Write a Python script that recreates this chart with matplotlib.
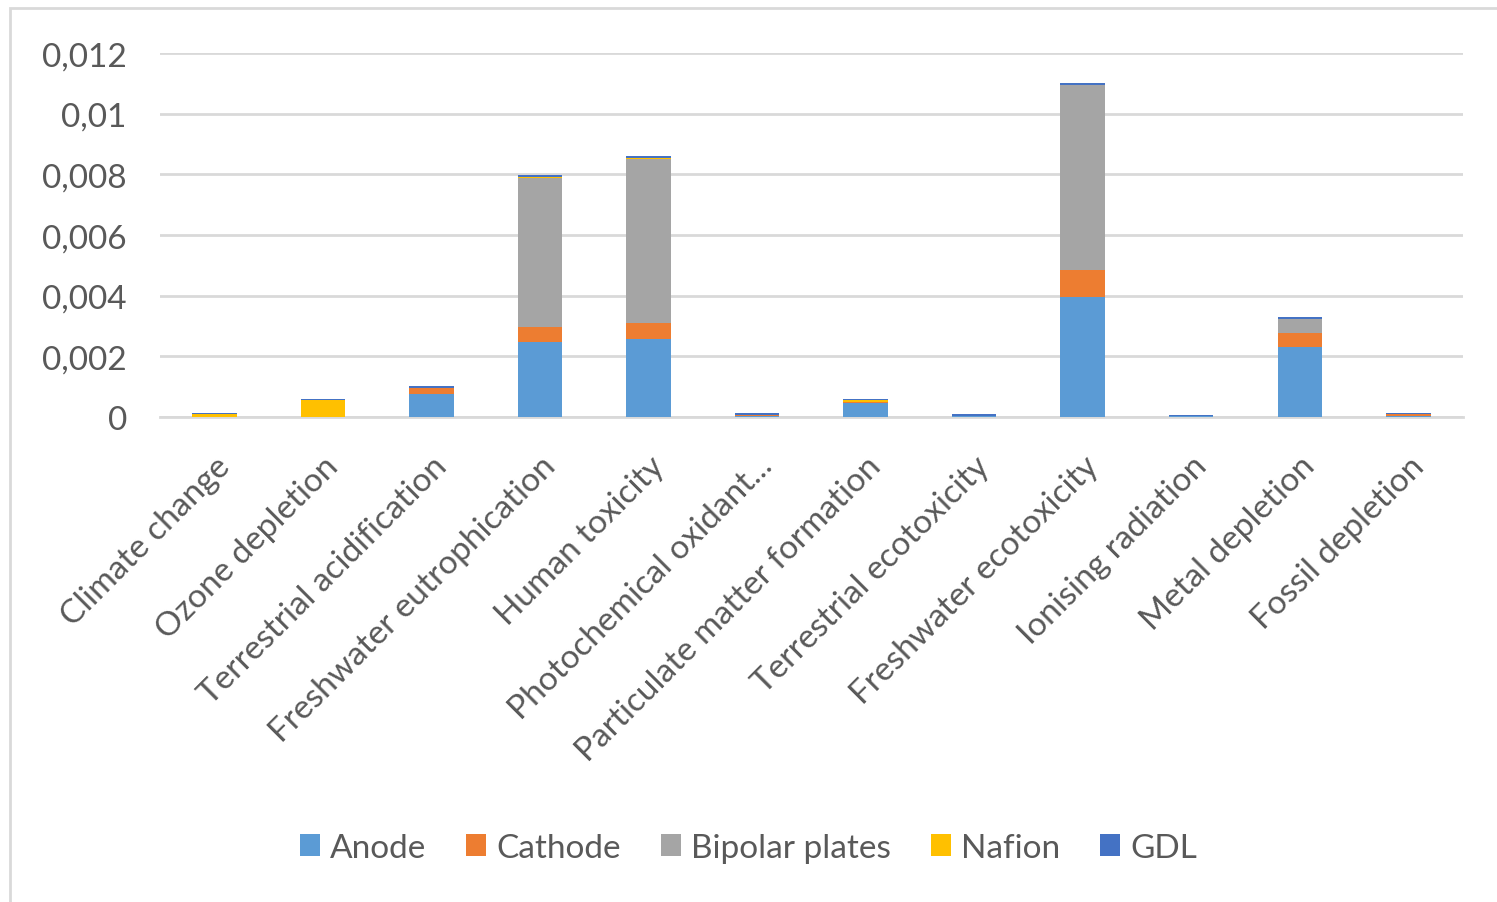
import matplotlib.pyplot as plt
import matplotlib.patches as patches
import numpy as np

categories = ['Climate change', 'Ozone depletion', 'Terrestrial acidification',
              'Freshwater eutrophication', 'Human toxicity', 'Photochemical oxidant...',
              'Particulate matter formation', 'Terrestrial ecotoxicity',
              'Freshwater ecotoxicity', 'Ionising radiation', 'Metal depletion',
              'Fossil depletion']

anode = [0.0, 0.0, 0.00076, 0.00247, 0.00257, 0.00002, 0.00045, 0.00004,
         0.00396, 0.00003, 0.00231, 0.00002]
cathode = [0.00001, 0.0, 0.00020, 0.00050, 0.00053, 0.00005, 0.00005, 0.0,
           0.00089, 0.0, 0.00046, 0.00007]
bipolar = [0.0, 0.0, 0.0, 0.00490, 0.00540, 0.0, 0.00001, 0.0,
           0.00610, 0.0, 0.00046, 0.0]
nafion = [0.0001, 0.00055, 0.0, 0.00005, 0.00005, 0.0, 0.00005, 0.0,
          0.00001, 0.0, 0.00001, 0.0]
gdl = [0.00004, 0.00005, 0.00005, 0.00005, 0.00005, 0.00005, 0.00005, 0.00005,
       0.00005, 0.00005, 0.00005, 0.00005]

yticks = [0, 0.002, 0.004, 0.006, 0.008, 0.01, 0.012]
ytick_labels = ['0', '0,002', '0,004', '0,006', '0,008', '0,01', '0,012']

series = [('Anode', anode, '#5b9bd5'),
          ('Cathode', cathode, '#ed7d31'),
          ('Bipolar plates', bipolar, '#a5a5a5'),
          ('Nafion', nafion, '#ffc000'),
          ('GDL', gdl, '#4472c4')]

plt.rcParams['font.family'] = ['Lato', 'DejaVu Sans']

fig = plt.figure(figsize=(14.97, 9.03), dpi=100)
ax = fig.add_axes([0.107, 0.537, 0.870, 0.403])

x = np.arange(len(categories))
bottom = np.zeros(len(categories))
for name, vals, color in series:
    vals = np.array(vals)
    ax.bar(x, vals, 0.41, bottom=bottom, color=color, label=name, zorder=3)
    bottom += vals

ax.set_xlim(-0.5, len(categories) - 0.5)
ax.set_ylim(0, 0.012)
ax.set_yticks(yticks)
ax.set_yticklabels(ytick_labels, fontsize=24, color='#595959')
ax.set_xticks(x)
ax.set_xticklabels(categories, rotation=45, ha='right', rotation_mode='anchor',
                   fontsize=24, color='#595959')
ax.tick_params(axis='both', length=0)
ax.tick_params(axis='y', pad=24)
ax.tick_params(axis='x', pad=24)
ax.grid(axis='y', color='#d9d9d9', linewidth=2, zorder=0)
for s in ['top', 'right', 'left']:
    ax.spines[s].set_visible(False)
ax.spines['bottom'].set_color('#d9d9d9')
ax.spines['bottom'].set_linewidth(2)

ax.legend(loc='center', bbox_to_anchor=(0.5, 0.06), bbox_transform=fig.transFigure,
          ncol=5, frameon=False, fontsize=24, handlelength=0.6, handleheight=0.6,
          handletextpad=0.3, columnspacing=1.2, labelcolor='#595959')

border = patches.Rectangle((0.007, -0.01), 1.1, 1.0, transform=fig.transFigure,
                           fill=False, edgecolor='#d9d9d9', linewidth=2)
fig.patches.append(border)

plt.savefig('out.png', dpi=100)
plt.close(fig)
